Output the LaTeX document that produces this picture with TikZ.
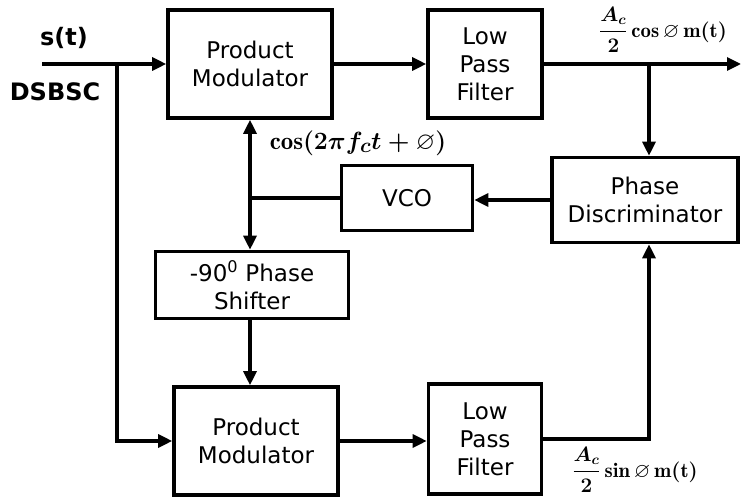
\documentclass[tikz,border=0pt]{standalone}
\usepackage{amssymb}
\usepackage{fontspec}
\newfontfamily\blkfont{DejaVu Sans}
\usetikzlibrary{arrows.meta}
\tikzset{
  blk/.style={draw, line width=3.6pt, align=center, inner sep=0pt,
    font=\blkfont\fontsize{23}{28}\selectfont},
  wire/.style={line width=3.2pt},
  sig/.style={font=\blkfont\bfseries\fontsize{24}{28}\selectfont},
  eqn/.style={font=\fontsize{20.74}{25}\selectfont\boldmath}
}
\begin{document}
\begin{tikzpicture}[x=1pt, y=-1pt, >={Triangle[length=14pt,width=13pt]}]
  \useasboundingbox (0,0) rectangle (742,497);
  % blocks
  \node[blk, minimum width=164pt, minimum height=108pt] (pmtop) at (250,64) {Product\\Modulator};
  \node[blk, minimum width=114pt, minimum height=108pt] (lpftop) at (485,64) {Low\\Pass\\Filter};
  \node[blk, minimum width=186pt, minimum height=85pt] (pd) at (645,200) {Phase\\Discriminator};
  \node[blk, minimum width=131pt, minimum height=65pt] (vco) at (407,198) {VCO};
  \node[blk, minimum width=193pt, minimum height=67pt] (shift) at (252,285) {-90\textsuperscript{0} Phase\\Shifter};
  \node[blk, minimum width=164pt, minimum height=108pt] (pmbot) at (256,441) {Product\\Modulator};
  \node[blk, minimum width=113pt, minimum height=110pt] (lpfbot) at (485,439) {Low\\Pass\\Filter};
  % points on the wires
  \coordinate (in) at (42,64);
  \coordinate (br) at (117,64);
  \coordinate (out) at (741,64);
  \coordinate (tap) at (649,64);
  % labels
  \node[sig] (st) at (64,38) {s(t)};
  \node[sig] (dsb) at (55,92) {DSBSC};
  \node[eqn, font=\fontsize{24.88}{29}\selectfont\boldmath] (carr) at (358,143) {$\cos(2\pi f_c t+\varnothing)$};
  \node[eqn] (icos) at (663,30) {$\displaystyle\frac{A_c}{2}\cos\varnothing\,\mathrm{m(t)}$};
  \node[eqn] (isin) at (635,470) {$\displaystyle\frac{A_c}{2}\sin\varnothing\,\mathrm{m(t)}$};
  % connectors
  \draw[wire, ->] (in) -- (pmtop.west);
  \draw[wire, ->] (br) |- (pmbot.west);
  \draw[wire, ->] (pmtop.east) -- (lpftop.west);
  \draw[wire, ->] (lpftop.east) -- (out);
  \draw[wire, ->] (tap) -- (tap |- pd.north);
  \draw[wire, ->] (pd.west) -- (pd.west -| vco.east);
  \draw[wire] (vco.west) -- (vco.west -| pmtop.south);
  \draw[wire, <->] (pmtop.south) -- (pmtop.south |- shift.north);
  \draw[wire, ->] (pmtop.south |- shift.south) -- (pmtop.south |- pmbot.north);
  \draw[wire, ->] (pmbot.east) -- (pmbot.east -| lpfbot.west);
  \draw[wire, ->] (lpfbot.east) -| (tap |- pd.south);
\end{tikzpicture}
\end{document}
